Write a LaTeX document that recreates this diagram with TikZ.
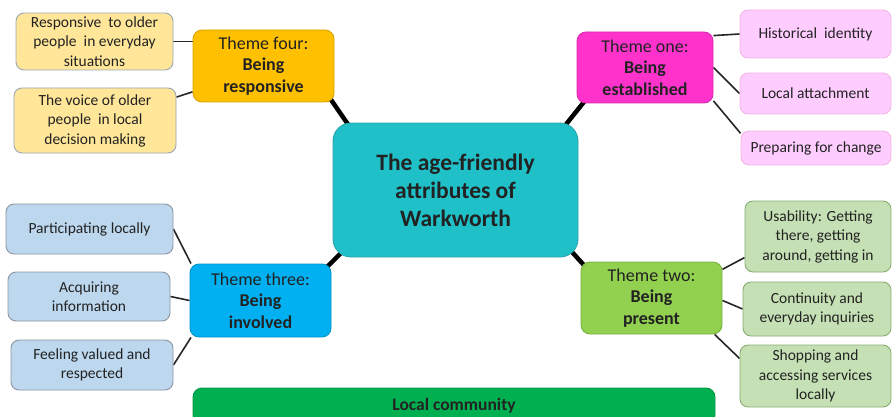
\documentclass[tikz,border=0pt]{standalone}
\usepackage{fontspec}
\setmainfont{Carlito}
\usetikzlibrary{backgrounds}

\definecolor{hubfill}{HTML}{20C0C8}
\definecolor{hubline}{HTML}{2AA5AD}
\definecolor{fourfill}{HTML}{FFC000}
\definecolor{fourline}{HTML}{D9A300}
\definecolor{fourlight}{HTML}{FFE699}
\definecolor{onefill}{HTML}{FF33CC}
\definecolor{oneline}{HTML}{D92BAE}
\definecolor{onelight}{HTML}{FFCCFF}
\definecolor{threefill}{HTML}{00B0F0}
\definecolor{threeline}{HTML}{0096CC}
\definecolor{threelight}{HTML}{BDD7EE}
\definecolor{twofill}{HTML}{92D050}
\definecolor{twoline}{HTML}{7CB144}
\definecolor{twolight}{HTML}{C5E0B4}
\definecolor{commfill}{HTML}{00B050}
\definecolor{subline}{HTML}{9AA6B2}
\definecolor{ink}{HTML}{222222}

\tikzset{
  x=1pt, y=-1pt,
  box/.style={draw, line width=0.9pt, align=center, inner sep=1pt, text=ink},
  subbox/.style={box, rounded corners=8pt, draw=subline,
    font=\fontsize{15.5}{19.5}\selectfont},
  themebox/.style={box, rounded corners=9pt,
    font=\fontsize{18}{21.5}\selectfont},
  hubbox/.style={box, rounded corners=18pt, fill=hubfill, draw=hubline,
    font=\fontsize{23.5}{28}\selectfont\bfseries},
  spoke/.style={line width=4.5pt, black},
  twig/.style={line width=1.6pt, black!85},
}

\begin{document}
\begin{tikzpicture}
\useasboundingbox (0,0) rectangle (893,417);

% central hub
\node[hubbox, minimum width=245pt, minimum height=134pt] (hub) at (455.5,190)
  {The age-friendly\\attributes of\\Warkworth};

% theme four
\node[themebox, fill=fourfill, draw=fourline, minimum width=141pt, minimum height=72pt] (t4) at (263.5,66)
  {Theme four:\\\textbf{Being}\\\textbf{responsive}};
\node[subbox, fill=fourlight, minimum width=157pt, minimum height=57pt] (resp) at (94.5,41.5)
  {Responsive\ \ to older\\people\ \ in everyday\\situations};
\node[subbox, fill=fourlight, minimum width=162pt, minimum height=65pt] (voice) at (95,120.5)
  {The voice of older\\people\ \ in local\\decision making};

% theme one
\node[themebox, fill=onefill, draw=oneline, minimum width=136pt, minimum height=71pt] (t1) at (645,67.5)
  {Theme one:\\\textbf{Being}\\\textbf{established}};
\node[subbox, fill=onelight, draw=oneline!35, minimum width=151pt, minimum height=48pt] (hist) at (815.5,34)
  {Historical\ \ identity};
\node[subbox, fill=onelight, draw=oneline!35, minimum width=151pt, minimum height=41pt] (attach) at (815.5,93.5)
  {Local attachment};
\node[subbox, fill=onelight, draw=oneline!35, minimum width=150pt, minimum height=34pt] (prep) at (816,148)
  {Preparing for change};

% theme three
\node[themebox, fill=threefill, draw=threeline, minimum width=141pt, minimum height=73pt] (t3) at (260.5,300.5)
  {Theme three:\\\textbf{Being}\\\textbf{involved}};
\node[subbox, fill=threelight, draw=subline!90!black, minimum width=167pt, minimum height=50pt] (part) at (89.5,229)
  {Participating locally};
\node[subbox, fill=threelight, draw=subline!90!black, minimum width=162pt, minimum height=49pt] (acq) at (89,296.5)
  {Acquiring\\information};
\node[subbox, fill=threelight, draw=subline!90!black, minimum width=162pt, minimum height=50pt] (feel) at (92,365)
  {Feeling valued and\\respected};

% theme two
\node[themebox, fill=twofill, draw=twoline, minimum width=141pt, minimum height=72pt] (t2) at (651.5,298)
  {Theme two:\\\textbf{Being}\\\textbf{present}};
\node[subbox, fill=twolight, draw=twoline!60!subline, minimum width=146pt, minimum height=71pt] (use) at (818,236.5)
  {Usability: Getting\\there, getting\\around, getting in};
\node[subbox, fill=twolight, draw=twoline!60!subline, minimum width=148pt, minimum height=54pt] (cont) at (817,309)
  {Continuity and\\everyday inquiries};
\node[subbox, fill=twolight, draw=twoline!60!subline, minimum width=151pt, minimum height=62pt] (shop) at (815.5,376)
  {Shopping and\\accessing services\\locally};

% community band along the bottom
\node[box, rounded corners=9pt, fill=commfill, draw=commfill!85!black,
      minimum width=522pt, minimum height=36pt,
      font=\fontsize{17.5}{20}\selectfont\bfseries] (comm) at (454,406)
  {Local community};

\begin{scope}[on background layer]
  % spokes from the hub to the themes
  \draw[spoke] ([shift={(19,7)}]hub.north west) -- ([shift={(-5,-5)}]t4.south east);
  \draw[spoke] ([shift={(-19,10)}]hub.north east) -- ([shift={(11,-6)}]t1.south west);
  \draw[spoke] ([shift={(17,-13)}]hub.south west) -- ([shift={(-9,8)}]t3.north east);
  \draw[spoke] ([shift={(-16,-16)}]hub.south east) -- ([shift={(11,12)}]t2.north west);

  % twigs from each theme to its attributes
  \draw[twig] (resp.east) -- (resp.east -| t4.west);
  \draw[twig] (voice.16) -- (t4.200);

  \draw[twig] (t1.25) -- (hist.west);
  \draw[twig] (t1.east) -- (attach.west);
  \draw[twig] (t1.-26) -- (prep.169);

  \draw[twig] (part.east) -- (t3.152);
  \draw[twig] (acq.east) -- (t3.west);
  \draw[twig] (feel.east) -- (t3.208);

  \draw[twig] (t2.22) -- (use.196);
  \draw[twig] (t2.-2) -- (cont.west);
  \draw[twig] (t2.-30) -- (shop.167);
\end{scope}
\end{tikzpicture}
\end{document}
